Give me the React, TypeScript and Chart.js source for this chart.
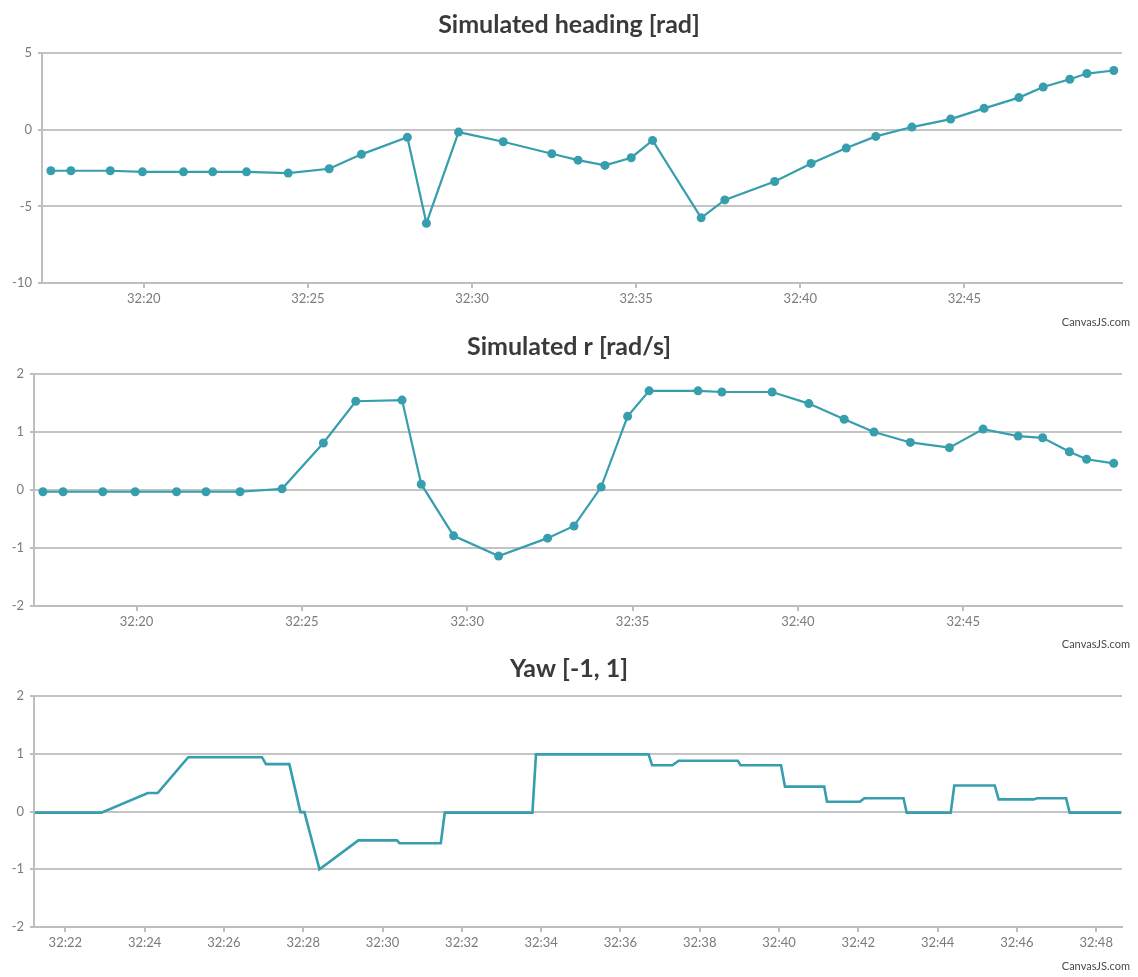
import React, { useEffect, useRef } from "react";
import { Chart, registerables } from "chart.js";

Chart.register(...registerables);

// ---- Data (minutes after 32:00) ----
const times = [17.17, 17.78, 18.98, 19.96, 21.21, 22.10, 23.13, 24.40, 25.65, 26.63, 28.03, 28.61, 29.59, 30.95, 32.43, 33.23, 34.05, 34.85, 35.50, 36.98, 37.70, 39.22, 40.33, 41.40, 42.30, 43.40, 44.58, 45.60, 46.66, 47.40, 48.21, 48.73, 49.55];
const heading = [-2.68, -2.68, -2.68, -2.75, -2.75, -2.75, -2.75, -2.83, -2.55, -1.61, -0.50, -6.10, -0.16, -0.79, -1.57, -1.99, -2.33, -1.83, -0.70, -5.75, -4.58, -3.38, -2.20, -1.20, -0.44, 0.17, 0.69, 1.39, 2.09, 2.78, 3.29, 3.66, 3.86];
const rateR = [-0.03, -0.03, -0.03, -0.03, -0.03, -0.03, -0.03, 0.02, 0.81, 1.53, 1.55, 0.10, -0.79, -1.14, -0.83, -0.62, 0.05, 1.27, 1.71, 1.71, 1.69, 1.69, 1.49, 1.22, 1.00, 0.82, 0.73, 1.05, 0.93, 0.90, 0.66, 0.53, 0.46];

const yawTimes = [21.23, 22.91, 24.08, 24.33, 25.10, 26.96, 27.06, 27.65, 27.93, 28.03, 28.41, 29.39, 30.36, 30.43, 31.47, 31.57, 33.78, 33.87, 36.71, 36.80, 37.31, 37.47, 38.96, 39.03, 40.05, 40.15, 41.14, 41.21, 42.04, 42.15, 43.14, 43.22, 44.33, 44.42, 45.44, 45.54, 46.42, 46.51, 47.24, 47.33, 48.63];
const yawValues = [-0.02, -0.02, 0.32, 0.32, 0.94, 0.94, 0.82, 0.82, -0.01, -0.01, -1.00, -0.50, -0.50, -0.55, -0.55, -0.02, -0.02, 0.99, 0.99, 0.80, 0.80, 0.88, 0.88, 0.80, 0.80, 0.43, 0.43, 0.17, 0.17, 0.23, 0.23, -0.02, -0.02, 0.45, 0.45, 0.21, 0.21, 0.23, 0.23, -0.02, -0.02];

const xTicksTop = [20, 25, 30, 35, 40, 45];
const xTicksYaw = [22, 24, 26, 28, 30, 32, 34, 36, 38, 40, 42, 44, 46, 48];
const xTickPrefix = "32:";

const titles = ["Simulated heading [rad]", "Simulated r [rad/s]", "Yaw [-1, 1]"];
const credit = "CanvasJS.com";

const LINE = "#369EAD";
const GRID = "#C4C4C4";
const AXIS = "#BEBEBE";
const LABEL = "#7B7B7B";
const FONT = "Lato, 'Open Sans', sans-serif";
const PAGE_W = 1138;
const X_AXIS_H = 26;

const overlayPlugin = {
  id: "overlay",
  afterDraw(chart: any, _args: any, opts: any) {
    const ctx = chart.ctx;
    ctx.save();
    ctx.font = `bold ${opts.titleSize}px ${FONT}`;
    ctx.fillStyle = "#3A3A3A";
    ctx.textAlign = "center";
    ctx.textBaseline = "alphabetic";
    ctx.fillText(opts.title, chart.width / 2, opts.titleBaseline);
    ctx.font = `11px ${FONT}`;
    ctx.fillStyle = "#4A4A4A";
    ctx.textAlign = "right";
    ctx.fillText(credit, opts.creditRight, opts.creditBaseline);
    ctx.restore();
  },
};

type PanelProps = {
  top: number;
  height: number;
  plotTop: number;
  plotBottom: number;
  plotLeft: number;
  plotRight: number;
  xMin: number;
  xMax: number;
  xTicks: number[];
  yMin: number;
  yMax: number;
  yStep: number;
  xs: number[];
  ys: number[];
  points: boolean;
  title: string;
};

function Panel(p: PanelProps) {
  const ref = useRef<HTMLCanvasElement | null>(null);
  useEffect(() => {
    if (!ref.current) return;
    const data = p.xs.map((x, i) => ({ x, y: p.ys[i] }));
    const chart = new Chart(ref.current, {
      type: "line",
      data: {
        datasets: [
          {
            data,
            borderColor: LINE,
            backgroundColor: LINE,
            borderWidth: p.points ? 2.2 : 2.6,
            pointRadius: p.points ? 4.5 : 0,
            pointHoverRadius: p.points ? 4.5 : 0,
            pointBackgroundColor: LINE,
            pointBorderWidth: 0,
            tension: 0,
            fill: false,
          },
        ],
      },
      options: {
        animation: false,
        responsive: false,
        devicePixelRatio: 1,
        parsing: false,
        layout: {
          padding: {
            top: p.plotTop,
            left: 0,
            right: PAGE_W - p.plotRight,
            bottom: p.height - p.plotBottom - X_AXIS_H,
          },
        },
        plugins: {
          legend: { display: false },
          title: { display: false },
          tooltip: { enabled: false },
          overlay: {
            title: p.title,
            titleSize: 25,
            titleBaseline: 33,
            creditRight: 1130,
            creditBaseline: 326,
          },
        } as any,
        scales: {
          x: {
            type: "linear",
            min: p.xMin,
            max: p.xMax,
            afterBuildTicks: (scale: any) => {
              scale.ticks = p.xTicks.map((value) => ({ value }));
            },
            afterFit: (scale: any) => {
              scale.height = X_AXIS_H;
            },
            grid: {
              display: true,
              drawOnChartArea: false,
              drawTicks: true,
              tickLength: 5,
              color: AXIS,
              lineWidth: 2,
            },
            border: { display: true, color: AXIS, width: 2 },
            ticks: {
              color: LABEL,
              font: { family: FONT, size: 13 },
              padding: 3,
              maxRotation: 0,
              autoSkip: false,
              callback: (v: any) => xTickPrefix + String(v).padStart(2, "0"),
            },
          },
          y: {
            type: "linear",
            min: p.yMin,
            max: p.yMax,
            afterFit: (scale: any) => {
              scale.width = p.plotLeft;
            },
            ticks: {
              stepSize: p.yStep,
              color: LABEL,
              font: { family: FONT, size: 13 },
              padding: 6,
            },
            grid: {
              color: GRID,
              lineWidth: 2,
              drawTicks: true,
              tickLength: 4,
              tickColor: AXIS,
            },
            border: { display: true, color: AXIS, width: 2 },
          },
        },
      },
      plugins: [overlayPlugin],
    });
    return () => chart.destroy();
  }, []);
  return (
    <div style={{ position: "absolute", left: 0, top: p.top, width: PAGE_W, height: p.height }}>
      <canvas ref={ref} width={PAGE_W} height={p.height} style={{ display: "block" }} />
    </div>
  );
}

export default function App() {
  return (
    <div style={{ position: "absolute", left: 0, top: 0, width: PAGE_W, height: 977, background: "#fff" }}>
      <Panel top={0} height={333} plotTop={53} plotBottom={283} plotLeft={42} plotRight={1122}
        xMin={16.9} xMax={49.8} xTicks={xTicksTop} yMin={-10} yMax={5} yStep={5}
        xs={times} ys={heading} points={true} title={titles[0]} />
      <Panel top={322} height={333} plotTop={52} plotBottom={284} plotLeft={34} plotRight={1122}
        xMin={16.9} xMax={49.8} xTicks={xTicksTop} yMin={-2} yMax={2} yStep={1}
        xs={times} ys={rateR} points={true} title={titles[1]} />
      <Panel top={644} height={333} plotTop={52} plotBottom={283} plotLeft={34} plotRight={1122}
        xMin={21.21} xMax={48.65} xTicks={xTicksYaw} yMin={-2} yMax={2} yStep={1}
        xs={yawTimes} ys={yawValues} points={false} title={titles[2]} />
    </div>
  );
}
